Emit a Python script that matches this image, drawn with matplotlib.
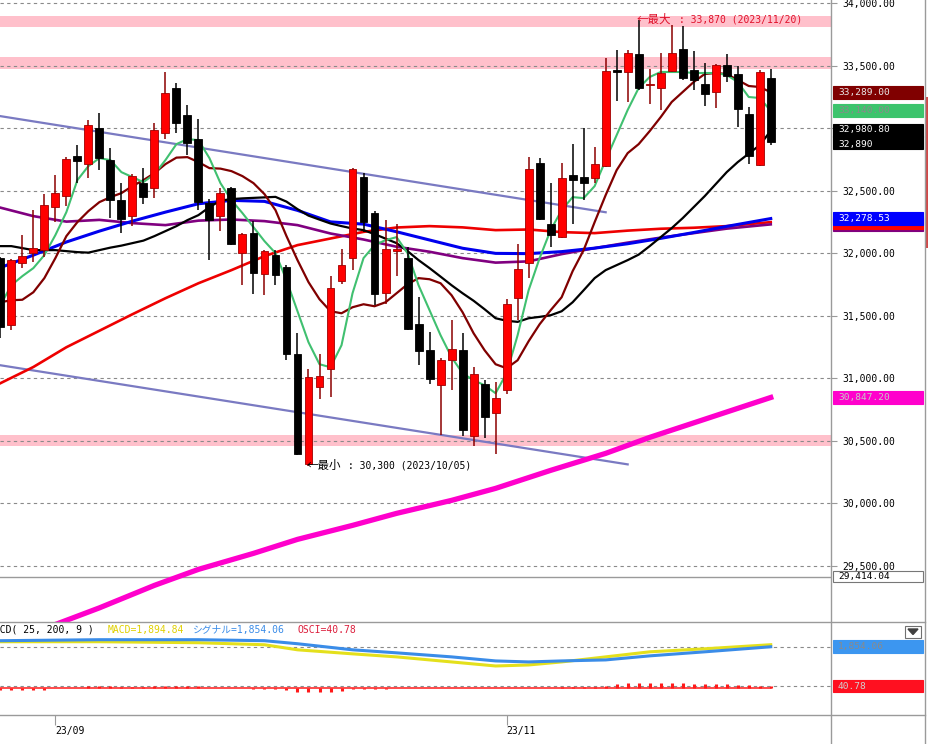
import numpy as np
import matplotlib
matplotlib.use("Agg")
import matplotlib.pyplot as plt
from matplotlib.lines import Line2D
from matplotlib.patches import Rectangle, Polygon
from matplotlib.transforms import blended_transform_factory

# trading days on screen
dates = [
    '2023-08-25', '2023-08-28', '2023-08-29', '2023-08-30', '2023-08-31',
    '2023-09-01', '2023-09-04', '2023-09-05', '2023-09-06', '2023-09-07', '2023-09-08',
    '2023-09-11', '2023-09-12', '2023-09-13', '2023-09-14', '2023-09-15',
    '2023-09-19', '2023-09-20', '2023-09-21', '2023-09-22',
    '2023-09-25', '2023-09-26', '2023-09-27', '2023-09-28', '2023-09-29',
    '2023-10-02', '2023-10-03', '2023-10-04', '2023-10-05', '2023-10-06',
    '2023-10-10', '2023-10-11', '2023-10-12', '2023-10-13',
    '2023-10-16', '2023-10-17', '2023-10-18', '2023-10-19', '2023-10-20',
    '2023-10-23', '2023-10-24', '2023-10-25', '2023-10-26', '2023-10-27',
    '2023-10-30', '2023-10-31', '2023-11-01', '2023-11-02',
    '2023-11-06', '2023-11-07', '2023-11-08', '2023-11-09', '2023-11-10',
    '2023-11-13', '2023-11-14', '2023-11-15', '2023-11-16', '2023-11-17',
    '2023-11-20', '2023-11-21', '2023-11-22', '2023-11-24',
    '2023-11-27', '2023-11-28', '2023-11-29', '2023-11-30',
    '2023-12-01', '2023-12-04', '2023-12-05', '2023-12-06', '2023-12-07',
]

opens = [31962, 31425, 31927, 32004, 32031, 32368, 32460, 32781, 32712, 33000,
         32746, 32426, 32300, 32560, 32520, 32960, 33320, 33106, 32914, 32404,
         32300, 32520, 32004, 32167, 31834, 31991, 31892, 31193, 30318, 30931,
         31079, 31780, 31967, 32613, 32320, 31684, 32020, 31967, 31439, 31231,
         30950, 31151, 31225, 30537, 30953, 30726, 30910, 31644, 31924, 32720,
         32239, 32132, 32626, 32608, 32600, 32701, 33471, 33453, 33594, 33345,
         33320, 33461, 33633, 33467, 33352, 33293, 33507, 33432, 33114, 32706,
         33400]
highs = [31970, 31955, 32146, 32346, 32472, 32626, 32770, 32866, 33066, 33120,
         32840, 32560, 32634, 32680, 33045, 33453, 33360, 33186, 33072, 32432,
         32520, 32530, 32162, 32260, 32026, 32026, 31906, 31364, 31079, 31193,
         31818, 32039, 32682, 32640, 32338, 32266, 32234, 32052, 31652, 31372,
         31161, 31471, 31364, 31092, 30990, 30971, 31639, 32079, 32768, 32762,
         32560, 32725, 32874, 33000, 32853, 33560, 33627, 33627, 33870, 33472,
         33603, 33827, 33819, 33619, 33523, 33515, 33595, 33499, 33173, 33467,
         33472]
lows = [31322, 31391, 31882, 31930, 31972, 32252, 32378, 32560, 32600, 32666,
        32280, 32164, 32220, 32394, 32440, 32912, 32960, 32786, 32346, 31946,
        32180, 32066, 31745, 31673, 31665, 31745, 31150, 30384, 30300, 30838,
        30851, 31759, 31866, 32172, 31585, 31599, 31817, 31385, 31105, 30958,
        30545, 30910, 30537, 30457, 30526, 30392, 30873, 31465, 31804, 32266,
        32052, 32122, 32239, 32426, 32560, 32690, 33221, 33213, 33310, 33195,
        33146, 33453, 33387, 33307, 33179, 33160, 33373, 33013, 32714, 32698,
        32866]
closes = [31409, 31951, 31982, 32046, 32384, 32480, 32752, 32741, 33024, 32765,
          32426, 32274, 32620, 32448, 32986, 33280, 33040, 32885, 32412, 32271,
          32480, 32079, 32154, 31847, 32020, 31826, 31199, 30398, 31011, 31017,
          31727, 31906, 32672, 32252, 31679, 32039, 32039, 31399, 31220, 30993,
          31151, 31239, 30590, 31039, 30691, 30846, 31599, 31879, 32672, 32279,
          32146, 32600, 32586, 32565, 32712, 33459, 33453, 33605, 33320, 33355,
          33440, 33605, 33403, 33387, 33272, 33507, 33419, 33155, 32778, 33453,
          32890]

# moving averages read per day
ma5 = [31585, 31745, 31818, 31882, 31986, 32146, 32330, 32586, 32698, 32762,
       32746, 32650, 32610, 32570, 32634, 32746, 32874, 32914, 32906, 32762,
       32562, 32426, 32322, 32210, 32098, 32002, 31786, 31537, 31289, 31113,
       31089, 31265, 31681, 31962, 32066, 32106, 32130, 32002, 31745, 31545,
       31345, 31169, 31041, 30985, 30945, 30881, 31041, 31345, 31705, 31962,
       32186, 32346, 32450, 32442, 32538, 32746, 32946, 33147, 33323, 33411,
       33451, 33451, 33451, 33443, 33443, 33443, 33427, 33371, 33251, 33243,
       33140]
ma10 = [31609, 31625, 31629, 31689, 31802, 31962, 32138, 32250, 32338, 32410,
        32450, 32482, 32538, 32586, 32642, 32714, 32766, 32770, 32730, 32682,
        32678, 32658, 32618, 32562, 32474, 32346, 32138, 31946, 31770, 31633,
        31537, 31521, 31569, 31593, 31577, 31609, 31681, 31753, 31802, 31793,
        31761, 31665, 31529, 31361, 31225, 31113, 31081, 31145, 31297, 31433,
        31545, 31649, 31858, 32026, 32250, 32466, 32666, 32802, 32874, 32978,
        33090, 33211, 33291, 33371, 33435, 33443, 33435, 33387, 33339, 33331,
        33289]
ma25 = [32058, 32058, 32042, 32026, 32026, 32026, 32018, 32010, 32006, 32026,
        32046, 32062, 32082, 32102, 32138, 32178, 32218, 32266, 32306, 32370,
        32422, 32434, 32440, 32444, 32448, 32452, 32414, 32354, 32302, 32270,
        32239, 32218, 32199, 32186, 32154, 32118, 32082, 32018, 31946, 31882,
        31814, 31745, 31681, 31621, 31553, 31481, 31461, 31452, 31481, 31492,
        31505, 31537, 31609, 31705, 31802, 31866, 31906, 31946, 31990, 32058,
        32130, 32202, 32282, 32370, 32458, 32554, 32650, 32730, 32798, 32866,
        32980.8]

# slower averages, read every few days
slow_idx = [0, 3, 6, 9, 12, 15, 18, 21, 24, 27, 30, 33, 36, 39, 42, 45, 48, 51,
            54, 57, 60, 63, 66, 70]
ma_blue = [31886, 31986, 32091, 32178, 32258, 32330, 32397, 32424, 32416, 32344,
           32252, 32234, 32173, 32107, 32041, 32000, 31998, 32014, 32042, 32077,
           32120, 32167, 32216, 32278.53]
ma_red = [30961, 31091, 31249, 31381, 31513, 31641, 31761, 31866, 31978, 32066,
          32119, 32172, 32207, 32218, 32208, 32186, 32191, 32170, 32162, 32182,
          32197, 32205, 32218, 32250]
ma_purple = [32366, 32298, 32254, 32268, 32242, 32226, 32262, 32271, 32258, 32226,
             32159, 32111, 32053, 32013, 31962, 31926, 31936, 31994, 32042, 32086,
             32126, 32162, 32198, 32232]
long_idx = [0, 5, 9, 14, 18, 23, 27, 32, 36, 41, 45, 50, 55, 59, 64, 70]
ma_long = [28855, 29031, 29164, 29344, 29472, 29600, 29712, 29824, 29920, 30024,
           30120, 30264, 30400, 30528, 30673, 30847.2]

# drawn objects
channel_upper = ([0, 55], [33098, 32329])
channel_lower = ([0, 57], [31105, 30312])
zones = [(33809, 33899), (33472, 33568), (30457, 30545)]
low_line = 29414.04

# MACD(25, 200, 9)
macd_idx = [0, 9, 18, 24, 27, 32, 36, 41, 45, 48, 51, 55, 59, 64, 70]
macd = [1954, 1954, 1934, 1894, 1794, 1714, 1654, 1554, 1474, 1494, 1554, 1654,
        1754, 1814, 1894.84]
signal = [1974, 1994, 1994, 1974, 1914, 1794, 1734, 1654, 1574, 1554, 1574, 1594,
          1674, 1754, 1854.06]
osci = [-60, -60, -60, -60, -60, -15, -15, -15, 35, 35, 35, 10, 10, 10, 35, 35,
        35, 35, 35, 5, 5, 5, 5, -25, -40, -40, -65, -105, -120, -120, -120, -95,
        -30, -25, -25, -25, -10, -10, -10, -10, -10, -10, -10, -10, -10, -10,
        5, 5, 5, 5, 5, 20, 20, 20, 20, 55, 105, 135, 135, 135, 135, 135, 135,
        110, 110, 95, 95, 80, 70, 55, 40.78]

MONO = 'DejaVu Sans Mono'
CJK = 'Noto Sans CJK JP'
JP = [MONO, CJK]
GRID = '#8a8a8a'
FRAME = '#9a9a9a'

W, H = 929, 744
fig = plt.figure(figsize=(W / 100, H / 100), dpi=100)


def fx(px):
    return px / W


def fy(py):
    return 1 - py / H


PANEL_R, MAIN_B, SUB_B = 831.5, 621.5, 714.5
ax = fig.add_axes([0, fy(MAIN_B), fx(PANEL_R), MAIN_B / H])
sub = fig.add_axes([0, fy(SUB_B), fx(PANEL_R), (SUB_B - MAIN_B) / H])
osc = sub.twinx()

x = np.arange(len(dates))
o, hi, lo, c = map(np.array, (opens, highs, lows, closes))
xlim = (-0.03, 75.52)

# ---- price panel
ax.set_xlim(*xlim)
ax.set_ylim(29055, 34027)
for lo_z, hi_z in zones:
    ax.axhspan(lo_z, hi_z, color='#ffc0cb', lw=0, zorder=0.5)
ticks = np.arange(29500, 34001, 500)
for v in ticks:
    ax.axhline(v, color=GRID, lw=0.8, ls=(0, (3, 3)), zorder=1)
ax.axhline(low_line, color=FRAME, lw=1, zorder=1)

ax.plot(*channel_upper, color='#7a7ac2', lw=1.6, zorder=2)
ax.plot(*channel_lower, color='#7a7ac2', lw=1.6, zorder=2)

ax.plot(long_idx, ma_long, color='#ff00cc', lw=3.8, zorder=2.5)
ax.plot(slow_idx, ma_red, color='#ee0000', lw=1.9, zorder=2.6)
ax.plot(slow_idx, ma_purple, color='#800080', lw=1.9, zorder=2.6)
ax.plot(slow_idx, ma_blue, color='#0000ee', lw=2.2, zorder=2.7)
ax.plot(x, ma25, color='black', lw=1.6, zorder=2.8)
ax.plot(x, ma10, color='#800000', lw=1.6, zorder=2.9)
ax.plot(x, ma5, color='#40c070', lw=1.5, zorder=3)

up = c >= o
ax.vlines(x, lo, hi, colors=np.where(up, '#8b0000', '#000000'), lw=1.1, zorder=4)
ax.bar(x, np.maximum(np.abs(c - o), 9), bottom=np.minimum(o, c), width=0.72,
       color=np.where(up, '#ff0000', '#000000'),
       edgecolor=np.where(up, '#a00000', '#000000'), lw=0.6, zorder=5)


def extreme_note(k, value, word, color):
    # full-width arrow and kanji, then the half-width part right after
    ax.text(k - 0.15, value, '←' + word, family=CJK, fontsize=8.3, color=color,
            va='center', ha='left', zorder=8)
    ax.annotate(f" : {value:,.0f} ({dates[k].replace('-', '/')})",
                xy=(k - 0.15, value), xytext=(25.6, 0), textcoords='offset points',
                family=MONO, fontsize=7, color=color, va='center', ha='left',
                zorder=8)


k_max, k_min = int(np.argmax(hi)), int(np.argmin(lo))
extreme_note(k_max, hi[k_max], '最大', '#e0102a')
extreme_note(k_min, lo[k_min], '最小', 'black')

ax.set_xticks([])
ax.yaxis.tick_right()
ax.set_yticks(ticks)
# 33,000 sits under the value boxes, so its label is left out
ax.set_yticklabels(['' if v == 33000 else f'{v:,.2f}' for v in ticks])
ax.tick_params(axis='y', direction='out', length=4.5, width=0.8, color=FRAME,
               labelcolor='black', labelsize=7, pad=3)
for t in ax.get_yticklabels():
    t.set_family(MONO)
for s in ax.spines.values():
    s.set_visible(False)

# ---- MACD panel
sub.set_xlim(*xlim)
sub.set_ylim(514, 2354)
osc.set_ylim(-715.5, 1768.5)
sub.axhline(signal[-1], color=GRID, lw=0.8, ls=(0, (3, 3)), zorder=1)
osc.axhline(osci[-1], color=GRID, lw=0.8, ls=(0, (3, 3)), zorder=1)
osc.vlines(x, 0, osci, color='#ff1a1a', lw=2.2, zorder=2)
osc.plot([x[0], x[-1]], [0, 0], color='#ff1a1a', lw=1.1, zorder=2)
sub.plot(macd_idx, macd, color='#e4e01c', lw=2.2, zorder=3)
sub.plot(macd_idx, signal, color='#3a8ce8', lw=2.2, zorder=3)

month_starts = [dates.index(d) for d in ('2023-09-01', '2023-11-01')]
sub.set_xticks(month_starts)
sub.set_xticklabels([dates[k][2:4] + '/' + dates[k][5:7] for k in month_starts])
sub.tick_params(axis='x', direction='out', length=7, width=0.8, color=FRAME,
                labelsize=7, pad=1.5)
for t in sub.get_xticklabels():
    t.set_family(MONO)
    t.set_horizontalalignment('left')
sub.set_yticks([])
osc.set_yticks([])
for a in (sub, osc):
    for s in a.spines.values():
        s.set_visible(False)

head_y = fy(630)
fig.text(fx(-12.5), head_y, 'MACD( 25, 200, 9 )', family=JP, fontsize=7,
         color='black', va='center')
fig.text(fx(108), head_y, f'MACD={macd[-1]:,.2f}', family=JP, fontsize=7,
         color='#e0d000', va='center')
fig.text(fx(193), head_y, f'シグナル={signal[-1]:,.2f}', family=JP, fontsize=7,
         color='#3a8ce8', va='center')
fig.text(fx(298), head_y, f'OSCI={osci[-1]:,.2f}', family=JP, fontsize=7,
         color='#dc1e3c', va='center')


# ---- value boxes on the right scale
def value_box(axis, v, label, face, fg, h, edge=None, z=20, nudge=0.0):
    tr = blended_transform_factory(fig.transFigure, axis.transData)
    axis.add_artist(Rectangle((fx(833), v - h / 2), fx(923) - fx(833), h,
                              transform=tr, facecolor=face,
                              edgecolor=edge or face, lw=0.8,
                              clip_on=False, zorder=z))
    if label:
        axis.text(fx(838), v + nudge, label, transform=tr, family=MONO,
                  fontsize=6.8, color=fg, va='center', ha='left',
                  clip_on=False, zorder=z + 0.5)


BH = 104
value_box(ax, ma_purple[-1], None, '#800080', None, BH, z=20)
value_box(ax, ma_red[-1], None, '#ff0000', None, BH, z=21)
value_box(ax, ma_blue[-1], f'{ma_blue[-1]:,.2f}', '#0000ff', 'white', BH, z=22)
value_box(ax, ma10[-1], f'{ma10[-1]:,.2f}', '#800000', '#e8e8e8', BH, z=23)
value_box(ax, ma5[-1], f'{ma5[-1]:,.2f}', '#3cc46c', '#8a8a8a', BH, z=24)
value_box(ax, ma25[-1], f'{ma25[-1]:,.2f}', 'black', 'white', BH, z=25, nudge=10)
value_box(ax, closes[-1], f'{closes[-1]:,}', 'black', 'white', BH, z=26, nudge=-18)
value_box(ax, ma_long[-1], f'{ma_long[-1]:,.2f}', '#ff00cc', '#c8c8c8', BH, z=27)
value_box(ax, low_line, f'{low_line:,.2f}', 'white', 'black', BH - 12,
          edge='#777777', z=28)
value_box(sub, signal[-1], f'{signal[-1]:,.2f}', '#3c96f0', '#8a8a8a', 250, z=20)
value_box(osc, osci[-1], f'{osci[-1]:,.2f}', '#ff1020', '#d0d0d0', 330, z=20)

# ---- frame lines and small widgets
for line in (
    Line2D([fx(PANEL_R)] * 2, [0, 1], color=FRAME, lw=1),
    Line2D([fx(925.5)] * 2, [0, 1], color=FRAME, lw=1),
    Line2D([0, fx(925.5)], [fy(MAIN_B)] * 2, color=FRAME, lw=1),
    Line2D([0, fx(925.5)], [fy(SUB_B)] * 2, color=FRAME, lw=1),
):
    fig.add_artist(line)
fig.add_artist(Rectangle((fx(905), fy(638)), 16 / W, 12 / H, facecolor='white',
                         edgecolor='#707070', lw=0.8, transform=fig.transFigure))
fig.add_artist(Polygon([(fx(908), fy(629)), (fx(918), fy(629)), (fx(913), fy(634.5))],
                       closed=True, color='#404040', transform=fig.transFigure))
fig.add_artist(Rectangle((fx(926.5), fy(248)), 2.5 / W, 151 / H,
                         facecolor='#d04848', lw=0, transform=fig.transFigure))

fig.savefig('out.png', dpi=100)
